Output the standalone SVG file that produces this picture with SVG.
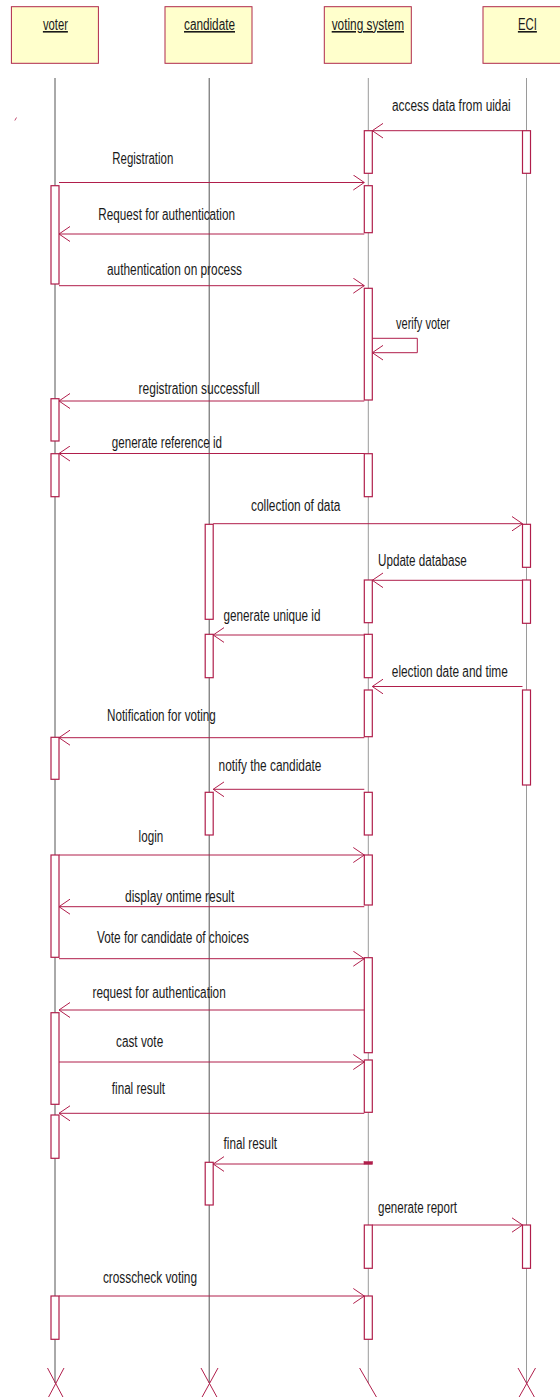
<svg xmlns="http://www.w3.org/2000/svg" width="560" height="1397" viewBox="0 0 560 1397">
<defs>
<style>
.box{fill:#ffffcc;stroke:#b0284a;stroke-width:1}
.ttl{font-family:"Liberation Sans",Arial,sans-serif;font-size:16px;fill:#1a1a1a;text-decoration:underline}
.lbl{font-family:"Liberation Sans",Arial,sans-serif;font-size:16px;fill:#1a1a1a}
.lifeA{stroke:#555;stroke-width:1}
.lifeB{stroke:#9a9a9a;stroke-width:1}
.act{fill:#fff;stroke:#b01e4b;stroke-width:1.2}
.msg{fill:none;stroke:#b01e4b;stroke-width:1;marker-end:url(#arr)}
.x{stroke:#b01e4b;stroke-width:1;fill:none}
</style>
<marker id="arr" markerUnits="userSpaceOnUse" markerWidth="12" markerHeight="16" viewBox="0 0 12 16" refX="11" refY="8" orient="auto">
<path d="M0,0.5 L11,8 L0,15.5" fill="none" stroke="#b01e4b" stroke-width="1"/>
</marker>
</defs>
<rect width="560" height="1397" fill="#fff"/>

<g id="voter">
<rect class="box" x="11.4" y="6.7" width="87" height="56.6"/>
<text class="ttl" x="42.9" y="30" textLength="25" lengthAdjust="spacingAndGlyphs">voter</text>
<line class="lifeA" x1="55" y1="78" x2="55" y2="1383"/>
<rect class="act" x="51" y="185.7" width="8" height="98.3"/>
<rect class="act" x="51" y="398.7" width="8" height="42.3"/>
<rect class="act" x="51" y="453.7" width="8" height="43"/>
<rect class="act" x="51" y="737.3" width="8" height="42"/>
<rect class="act" x="51" y="855" width="8" height="102.3"/>
<rect class="act" x="51" y="1012.7" width="8" height="91.6"/>
<rect class="act" x="51" y="1115" width="8" height="43.3"/>
<rect class="act" x="51" y="1296" width="8" height="43.3"/>
<path class="x" d="M47.5,1368 L64,1399 M64,1368 L47.5,1399"/>
</g>

<g id="candidate">
<rect class="box" x="165" y="6.7" width="87" height="56.6"/>
<text class="ttl" x="184" y="30" textLength="51" lengthAdjust="spacingAndGlyphs">candidate</text>
<line class="lifeA" x1="209.2" y1="78" x2="209.2" y2="1383"/>
<rect class="act" x="205.2" y="524.3" width="8" height="95"/>
<rect class="act" x="205.2" y="634.3" width="8" height="43.4"/>
<rect class="act" x="205.2" y="792.3" width="8" height="42.7"/>
<rect class="act" x="205.2" y="1162.3" width="8" height="42.7"/>
<path class="x" d="M201,1368 L218,1399 M218,1368 L201,1399"/>
</g>

<g id="voting-system">
<rect class="box" x="324.3" y="6.7" width="87" height="56.6"/>
<text class="ttl" x="331.7" y="30" textLength="72.3" lengthAdjust="spacingAndGlyphs">voting system</text>
<line class="lifeB" x1="368.3" y1="78" x2="368.3" y2="1383"/>
<rect class="act" x="364.3" y="130.7" width="8" height="42.6"/>
<rect class="act" x="364.3" y="185.7" width="8" height="47"/>
<rect class="act" x="364.3" y="288.3" width="8" height="111.7"/>
<rect class="act" x="364.3" y="453.7" width="8" height="43"/>
<rect class="act" x="364.3" y="580" width="8" height="42.7"/>
<rect class="act" x="364.3" y="634.3" width="8" height="43.4"/>
<rect class="act" x="364.3" y="690" width="8" height="46.7"/>
<rect class="act" x="364.3" y="792.3" width="8" height="42.7"/>
<rect class="act" x="364.3" y="855" width="8" height="50"/>
<rect class="act" x="364.3" y="957.7" width="8" height="95"/>
<rect class="act" x="364.3" y="1060" width="8" height="52.3"/>
<rect x="364" y="1161.7" width="8.5" height="2.6" fill="#b01e4b" stroke="#b01e4b" stroke-width="0.6"/>
<rect class="act" x="364.3" y="1225" width="8" height="43.3"/>
<rect class="act" x="364.3" y="1296" width="8" height="43.3"/>
<path class="x" d="M359.6,1368 L377,1398"/>
</g>

<g id="ECI">
<rect class="box" x="483" y="6.7" width="87" height="56.6"/>
<text class="ttl" x="517.9" y="30" textLength="19" lengthAdjust="spacingAndGlyphs">ECI</text>
<line class="lifeB" x1="526.5" y1="78" x2="526.5" y2="1383"/>
<rect class="act" x="522.5" y="130.7" width="8" height="42.6"/>
<rect class="act" x="522.5" y="524.3" width="8" height="43"/>
<rect class="act" x="522.5" y="580" width="8" height="43.3"/>
<rect class="act" x="522.5" y="690" width="8" height="95"/>
<rect class="act" x="522.5" y="1225" width="8" height="43.3"/>
<path class="x" d="M518,1368 L535.5,1399 M535.5,1368 L518,1399"/>
</g>

<line x1="16.5" y1="117.5" x2="14.8" y2="120.5" stroke="#b01e4b" stroke-width="0.8"/>

<g id="connectors">
<line class="msg" x1="522.5" y1="130.7" x2="372.3" y2="130.7"/>
<line class="msg" x1="59" y1="182.5" x2="364.3" y2="182.5"/>
<line class="msg" x1="364.3" y1="234" x2="59" y2="234"/>
<line class="msg" x1="59" y1="285.7" x2="364.3" y2="285.7"/>
<polyline class="msg" points="372.3,338.3 417.3,338.3 417.3,352.7 372.3,352.7"/>
<line class="msg" x1="364.3" y1="401" x2="59" y2="401"/>
<line class="msg" x1="364.3" y1="453.5" x2="59" y2="453.5"/>
<line class="msg" x1="213.2" y1="523.7" x2="522.5" y2="523.7"/>
<line class="msg" x1="522.5" y1="580.3" x2="372.3" y2="580.3"/>
<line class="msg" x1="364.3" y1="635" x2="213.2" y2="635"/>
<line class="msg" x1="522.5" y1="686.5" x2="372.3" y2="686.5"/>
<line class="msg" x1="364.3" y1="737.7" x2="59" y2="737.7"/>
<line class="msg" x1="364.3" y1="789.3" x2="213.2" y2="789.3"/>
<line class="msg" x1="59" y1="855" x2="364.3" y2="855"/>
<line class="msg" x1="364.3" y1="906.7" x2="59" y2="906.7"/>
<line class="msg" x1="59" y1="958.7" x2="364.3" y2="958.7"/>
<line class="msg" x1="364.3" y1="1010" x2="59" y2="1010"/>
<line class="msg" x1="59" y1="1062" x2="364.3" y2="1062"/>
<line class="msg" x1="364.3" y1="1113.3" x2="59" y2="1113.3"/>
<line class="msg" x1="364.3" y1="1164" x2="213.2" y2="1164"/>
<line class="msg" x1="372.3" y1="1225" x2="522.5" y2="1225"/>
<line class="msg" x1="59" y1="1296" x2="364.3" y2="1296"/>

<text class="lbl" x="392" y="110.5" textLength="118.7" lengthAdjust="spacingAndGlyphs">access data from uidai</text>
<text class="lbl" x="112.3" y="164" textLength="61" lengthAdjust="spacingAndGlyphs">Registration</text>
<text class="lbl" x="98.3" y="220" textLength="136.7" lengthAdjust="spacingAndGlyphs">Request for authentication</text>
<text class="lbl" x="107" y="275" textLength="135" lengthAdjust="spacingAndGlyphs">authentication on process</text>
<text class="lbl" x="396" y="329.3" textLength="54" lengthAdjust="spacingAndGlyphs">verify voter</text>
<text class="lbl" x="138.6" y="394" textLength="121" lengthAdjust="spacingAndGlyphs">registration successfull</text>
<text class="lbl" x="111.8" y="448.3" textLength="110.2" lengthAdjust="spacingAndGlyphs">generate reference id</text>
<text class="lbl" x="251" y="511" textLength="89.4" lengthAdjust="spacingAndGlyphs">collection of data</text>
<text class="lbl" x="378" y="566" textLength="88.8" lengthAdjust="spacingAndGlyphs">Update database</text>
<text class="lbl" x="223.6" y="621" textLength="96.8" lengthAdjust="spacingAndGlyphs">generate unique id</text>
<text class="lbl" x="391.8" y="676.7" textLength="116" lengthAdjust="spacingAndGlyphs">election date and time</text>
<text class="lbl" x="107" y="720.7" textLength="108.7" lengthAdjust="spacingAndGlyphs">Notification for voting</text>
<text class="lbl" x="218.6" y="771" textLength="102.8" lengthAdjust="spacingAndGlyphs">notify the candidate</text>
<text class="lbl" x="138.6" y="842.3" textLength="24.6" lengthAdjust="spacingAndGlyphs">login</text>
<text class="lbl" x="125" y="901.7" textLength="109.3" lengthAdjust="spacingAndGlyphs">display ontime result</text>
<text class="lbl" x="97" y="943.3" textLength="152" lengthAdjust="spacingAndGlyphs">Vote for candidate of choices</text>
<text class="lbl" x="92.5" y="998.3" textLength="133.2" lengthAdjust="spacingAndGlyphs">request for authentication</text>
<text class="lbl" x="116" y="1046.7" textLength="47.2" lengthAdjust="spacingAndGlyphs">cast vote</text>
<text class="lbl" x="111.8" y="1094.3" textLength="53.2" lengthAdjust="spacingAndGlyphs">final result</text>
<text class="lbl" x="223.6" y="1148.7" textLength="53.4" lengthAdjust="spacingAndGlyphs">final result</text>
<text class="lbl" x="378" y="1212.7" textLength="79" lengthAdjust="spacingAndGlyphs">generate report</text>
<text class="lbl" x="102.9" y="1283.3" textLength="94.1" lengthAdjust="spacingAndGlyphs">crosscheck voting</text>
</g>
</svg>
